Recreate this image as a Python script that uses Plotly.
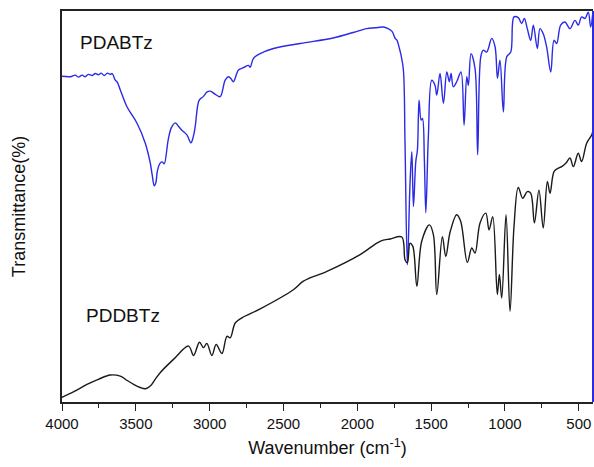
import plotly.graph_objects as go

# PDABTz (blue) spectrum: wavenumber (cm-1) and transmittance (arb. %)
wn_pdabtz = [4000, 3944, 3910, 3890, 3863, 3843, 3822, 3795, 3775, 3754, 3734, 3714, 3693, 3673, 3660,
             3639, 3626, 3605, 3560, 3492, 3436, 3402, 3389, 3375, 3365, 3353, 3335, 3321, 3308, 3281,
             3260, 3233, 3213, 3188, 3154, 3127, 3111, 3098, 3071, 3044, 3017, 2996, 2962, 2929, 2895,
             2872, 2854, 2839, 2805, 2771, 2737, 2726, 2703, 2658, 2568, 2387, 2164, 2028, 1936, 1880,
             1825, 1792, 1765, 1744, 1731, 1715, 1704, 1688, 1677, 1661, 1643, 1631, 1620, 1604, 1593,
             1582, 1568, 1559, 1546, 1536, 1519, 1496, 1474, 1462, 1440, 1417, 1394, 1377, 1365, 1350,
             1327, 1298, 1277, 1259, 1248, 1230, 1203, 1185, 1164, 1147, 1124, 1090, 1067, 1051, 1034,
             1011, 988, 961, 939, 910, 887, 869, 849, 826, 808, 781, 763, 741, 718, 690,
             668, 650, 623, 594, 560, 526, 504, 481, 458, 436, 420, 406]
t_pdabtz = [83.3, 83.2, 83.6, 83.1, 83.6, 83.2, 83.8, 83.5, 84.0, 83.7, 84.1, 83.5, 84.1, 83.8, 84.0,
            82.3, 81.8, 79.8, 75.5, 71.3, 66.2, 61.1, 58.0, 55.3, 56.0, 59.3, 61.1, 61.4, 60.9, 67.0,
            70.1, 71.4, 70.6, 69.5, 68.3, 66.3, 67.8, 70.4, 77.2, 78.1, 79.3, 79.5, 78.7, 78.1, 82.3,
            83.2, 82.6, 81.9, 84.9, 85.5, 86.1, 85.6, 87.9, 89.1, 90.4, 91.7, 93.1, 94.5, 95.5, 95.7,
            95.9, 95.5, 94.8, 93.0, 92.5, 90.4, 88.7, 84.9, 66.2, 35.1, 56.0, 64.0, 50.0, 61.5, 64.5,
            77.2, 72.1, 72.5, 61.9, 48.4, 67.8, 82.3, 81.0, 78.5, 84.0, 76.4, 84.4, 81.9, 84.0, 80.6,
            81.9, 84.4, 70.8, 83.2, 81.0, 89.1, 85.3, 63.2, 88.3, 90.0, 89.5, 93.0, 90.8, 82.8, 87.4,
            74.2, 88.3, 89.5, 98.5, 98.3, 96.8, 98.1, 95.5, 92.5, 96.4, 90.4, 95.5, 94.2, 90.8, 84.4,
            92.5, 91.7, 96.4, 97.2, 95.5, 97.6, 96.4, 98.5, 98.1, 99.7, 95.9, 99.3]

# PDDBTz (black) spectrum
wn_pddbtz = [4000, 3917, 3831, 3754, 3673, 3605, 3558, 3515, 3470, 3436, 3402, 3369, 3335, 3245, 3143,
             3109, 3069, 3042, 3019, 2985, 2956, 2917, 2883, 2861, 2827, 2782, 2658, 2433, 2365, 2206,
             1981, 1846, 1778, 1699, 1677, 1661, 1643, 1624, 1597, 1564, 1512, 1485, 1462, 1424, 1401,
             1372, 1327, 1300, 1255, 1225, 1203, 1169, 1130, 1108, 1083, 1052, 1038, 1022, 993, 966,
             939, 910, 880, 849, 826, 801, 770, 741, 713, 695, 668, 639, 616, 587, 560,
             537, 504, 481, 447, 413, 404]
t_pddbtz = [1.2, 2.7, 4.5, 5.8, 6.9, 6.6, 5.5, 4.5, 3.7, 3.4, 4.1, 5.8, 7.5, 10.9, 14.3,
            11.9, 15.3, 13.9, 15.0, 11.9, 14.7, 12.4, 16.8, 16.4, 20.2, 21.5, 23.8, 28.7, 30.9, 33.4,
            37.7, 41.1, 41.7, 42.2, 36.4, 35.6, 40.6, 39.8, 29.6, 41.1, 45.3, 42.8, 27.5, 42.3, 37.2,
            43.4, 47.9, 46.2, 35.7, 39.4, 38.1, 45.8, 48.3, 44.0, 47.4, 27.5, 32.6, 26.6, 47.9, 23.2,
            44.9, 54.9, 52.1, 53.8, 53.4, 45.8, 54.2, 44.5, 56.4, 53.4, 58.9, 59.8, 60.2, 61.1, 62.4,
            60.2, 63.6, 61.5, 66.2, 68.3, 69.5]

x_ticks = [4000, 3500, 3000, 2500, 2000, 1500, 1000, 500]
x_minor_ticks = [3750, 3250, 2750, 2250, 1750, 1250, 750]
x_range = [4000, 404]
y_range = [0, 100]

FONT = "Liberation Sans, Arial, sans-serif"

fig = go.Figure()
fig.add_trace(go.Scatter(x=wn_pdabtz, y=t_pdabtz, mode="lines",
                         line=dict(color="#2b2be6", width=1.4), line_shape="spline",
                         showlegend=False, name="PDABTz"))
fig.add_trace(go.Scatter(x=wn_pddbtz, y=t_pddbtz, mode="lines",
                         line=dict(color="#1a1a1a", width=1.4), line_shape="spline",
                         showlegend=False, name="PDDBTz"))

fig.add_annotation(text="PDABTz", x=3890, y=92, xref="x", yref="y", showarrow=False,
                   xanchor="left", yanchor="middle", font=dict(family=FONT, size=19, color="#111"))
fig.add_annotation(text="PDDBTz", x=3850, y=22, xref="x", yref="y", showarrow=False,
                   xanchor="left", yanchor="middle", font=dict(family=FONT, size=19, color="#111"))

# right frame edge drawn in blue as in the reference
fig.add_shape(type="line", xref="paper", yref="paper", x0=1, x1=1, y0=0, y1=1,
              line=dict(color="#2b2be6", width=2))

fig.update_layout(
    width=594, height=467,
    margin=dict(l=62, r=1, t=11, b=65),
    paper_bgcolor="white", plot_bgcolor="white",
    font=dict(family=FONT, color="#111"),
    xaxis=dict(range=x_range, tickvals=x_ticks, ticktext=[str(v) for v in x_ticks],
               automargin=False,
               showgrid=False, zeroline=False, showline=True, linecolor="#222", linewidth=1.6,
               mirror=True, ticks="outside", ticklen=7, tickwidth=1.3, tickcolor="#222",
               tickfont=dict(family=FONT, size=15, color="#111"),
               minor=dict(tickvals=x_minor_ticks, ticks="outside",
                          ticklen=4, tickwidth=1.2, tickcolor="#222"),
               title=dict(text="Wavenumber (cm<sup>-1</sup>)", standoff=11,
                          font=dict(family=FONT, size=18, color="#111"))),
    yaxis=dict(range=y_range, automargin=False,
               showgrid=False, zeroline=False, showline=True, linecolor="#222",
               linewidth=1.6, showticklabels=False, ticks="",
               title=dict(text="Transmittance(%)", standoff=30,
                          font=dict(family=FONT, size=18, color="#111"))),
)

fig.write_html("out.html", config={"displayModeBar": False},
               post_script="document.body.style.margin='0';document.body.style.padding='0';")
